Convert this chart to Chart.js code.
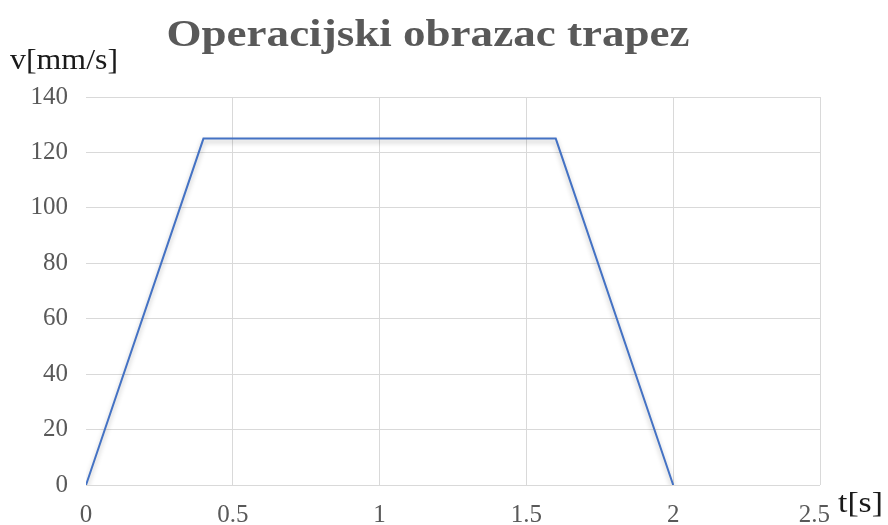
<!DOCTYPE html>
<html>
<head>
<meta charset="utf-8">
<script src="https://cdn.jsdelivr.net/npm/chart.js@4/dist/chart.umd.min.js"></script>
<style>
  html, body { margin: 0; padding: 0; background: #fff; }
  #wrap { width: 888px; height: 525px; position: relative; }
</style>
</head>
<body>
<div id="wrap"><canvas id="c" width="888" height="525"></canvas></div>
<script>
// Trapezoidal velocity profile: time [s] vs. speed [mm/s]
const timeSec = [0, 0.4, 1.6, 2];
const speedMmS = [0, 125, 125, 0];
const xTicks = [0, 0.5, 1, 1.5, 2, 2.5];
const yTicks = [0, 20, 40, 60, 80, 100, 120, 140];

const titleText = 'Operacijski obrazac trapez';
const yAxisLabel = 'v[mm/s]';
const xAxisLabel = 't[s]';

const SERIF = '"Liberation Serif", "DejaVu Serif", serif';
const GRID = '#d9d9d9';
const TICK = '#595959';
const TICK_SIZE = 25;
const TICK_FONT = TICK_SIZE + 'px ' + SERIF;

// Draws text squeezed/stretched horizontally to a given width
function fittedText(ctx, text, x, y, font, color, targetWidth, align) {
  ctx.save();
  ctx.font = font;
  ctx.fillStyle = color;
  ctx.textBaseline = 'alphabetic';
  const w = ctx.measureText(text).width;
  const sx = targetWidth / w;
  let left = x;
  if (align === 'center') left = x - targetWidth / 2;
  ctx.translate(left, y);
  ctx.scale(sx, 1);
  ctx.textAlign = 'left';
  ctx.fillText(text, 0, 0);
  ctx.restore();
}

const labelsPlugin = {
  id: 'labels',
  afterDraw(chart) {
    const ctx = chart.ctx;
    fittedText(ctx, titleText, 428, 46, 'bold 38px ' + SERIF, '#595959', 523, 'center');
    fittedText(ctx, yAxisLabel, 10, 69, '29px ' + SERIF, '#1a1a1a', 108, 'left');
    fittedText(ctx, xAxisLabel, 838, 512, '29px ' + SERIF, '#1a1a1a', 45, 'left');

    // time-axis tick labels, the last one kept inside the plot's right edge
    const xs = chart.scales.x;
    ctx.save();
    ctx.font = TICK_FONT;
    ctx.fillStyle = TICK;
    ctx.textBaseline = 'alphabetic';
    xTicks.forEach((v, i) => {
      const txt = String(v);
      const w = ctx.measureText(txt).width;
      let cx = xs.getPixelForValue(v);
      if (i === xTicks.length - 1) cx = Math.min(cx, xs.right + 10 - w / 2);
      ctx.textAlign = 'center';
      ctx.fillText(txt, cx, 522);
    });
    ctx.restore();
  }
};

const shadowPlugin = {
  id: 'lineShadow',
  beforeDatasetDraw(chart) {
    const ctx = chart.ctx;
    ctx.save();
    ctx.shadowColor = 'rgba(0,0,0,0.28)';
    ctx.shadowBlur = 5;
    ctx.shadowOffsetX = 0;
    ctx.shadowOffsetY = 3;
  },
  afterDatasetDraw(chart) {
    chart.ctx.restore();
  }
};

new Chart(document.getElementById('c'), {
  type: 'line',
  data: {
    datasets: [{
      data: timeSec.map((t, i) => ({ x: t, y: speedMmS[i] })),
      borderColor: '#4472c4',
      borderWidth: 2,
      pointRadius: 0,
      tension: 0,
      fill: false
    }]
  },
  options: {
    responsive: false,
    animation: false,
    events: [],
    layout: { padding: { left: 0, right: 68, top: 97, bottom: 0 } },
    plugins: {
      legend: { display: false },
      title: { display: false },
      tooltip: { enabled: false }
    },
    scales: {
      x: {
        type: 'linear',
        min: xTicks[0],
        max: xTicks[xTicks.length - 1],
        afterBuildTicks(scale) { scale.ticks = xTicks.map(v => ({ value: v })); },
        afterFit(scale) { scale.height = 40; },
        border: { display: false },
        grid: {
          color: ctx => (ctx.tick && ctx.tick.value === 0) ? 'rgba(0,0,0,0)' : GRID,
          lineWidth: 1,
          drawTicks: false
        },
        ticks: { display: false }
      },
      y: {
        type: 'linear',
        min: yTicks[0],
        max: yTicks[yTicks.length - 1],
        afterBuildTicks(scale) { scale.ticks = yTicks.map(v => ({ value: v })); },
        afterFit(scale) { scale.width = 86; },
        border: { display: false },
        grid: { color: GRID, lineWidth: 1, drawTicks: false },
        ticks: {
          color: TICK,
          font: { family: SERIF, size: TICK_SIZE },
          padding: 18,
          autoSkip: false,
          callback: v => String(v)
        }
      }
    }
  },
  plugins: [shadowPlugin, labelsPlugin]
});
</script>
</body>
</html>
